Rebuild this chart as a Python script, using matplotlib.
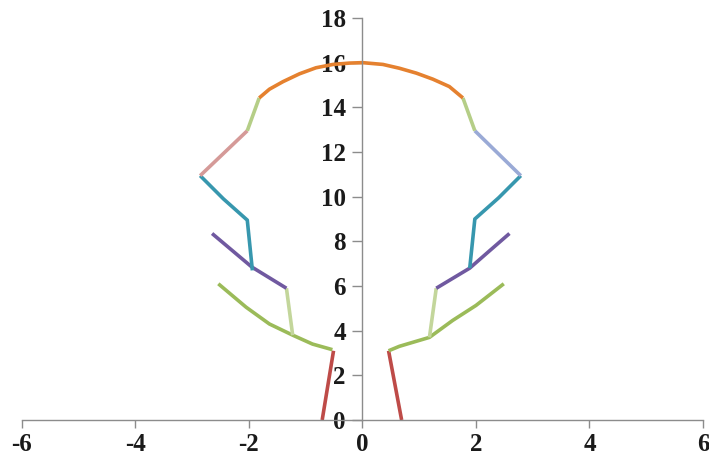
import matplotlib.pyplot as plt

# outline of the crown, drawn piece by piece
crown_x = [-1.82, -1.64, -1.40, -1.11, -0.82, -0.52, -0.23, 0.0,
           0.36, 0.65, 0.95, 1.24, 1.53, 1.77]
crown_y = [14.42, 14.81, 15.15, 15.50, 15.77, 15.92, 15.98, 16.0,
           15.92, 15.75, 15.53, 15.26, 14.93, 14.42]

upper_left_x = [-1.82, -2.03]
upper_left_y = [14.42, 12.95]
upper_right_x = [1.77, 1.98]
upper_right_y = [14.42, 12.95]

pink_x = [-2.03, -2.86]
pink_y = [12.95, 10.94]
lavender_x = [1.98, 2.79]
lavender_y = [12.95, 10.94]

teal_left_x = [-2.86, -2.45, -2.03, -1.94]
teal_left_y = [10.94, 9.9, 8.95, 6.7]
teal_right_x = [2.79, 2.4, 1.98, 1.89]
teal_right_y = [10.94, 9.95, 9.0, 6.8]

purple_left_x = [-2.65, -2.3, -1.95, -1.34]
purple_left_y = [8.35, 7.6, 6.85, 5.9]
purple_right_x = [2.59, 2.25, 1.89, 1.3]
purple_right_y = [8.35, 7.6, 6.8, 5.9]

pale_left_x = [-1.34, -1.23]
pale_left_y = [5.9, 3.8]
pale_right_x = [1.3, 1.18]
pale_right_y = [5.9, 3.7]

olive_left_x = [-2.54, -2.05, -1.64, -1.23, -0.88, -0.53]
olive_left_y = [6.1, 5.05, 4.3, 3.8, 3.4, 3.15]
olive_right_x = [2.49, 2.0, 1.59, 1.18, 0.65, 0.46]
olive_right_y = [6.1, 5.13, 4.46, 3.7, 3.3, 3.1]

trunk_left_x = [-0.51, -0.71]
trunk_left_y = [3.1, 0.0]
trunk_right_x = [0.46, 0.69]
trunk_right_y = [3.1, 0.0]

x_ticks = [-6, -4, -2, 0, 2, 4, 6]
y_ticks = [0, 2, 4, 6, 8, 10, 12, 14, 16, 18]

fig = plt.figure(figsize=(7.09, 4.73), dpi=100)
ax = fig.add_axes([0.031, 0.112, 0.9605, 0.85])

lw = 2.6
pieces = [
    (trunk_left_x, trunk_left_y, '#BE4B48'),
    (trunk_right_x, trunk_right_y, '#BE4B48'),
    (olive_left_x, olive_left_y, '#9BBB59'),
    (olive_right_x, olive_right_y, '#9BBB59'),
    (pale_left_x, pale_left_y, '#C3D69B'),
    (pale_right_x, pale_right_y, '#C3D69B'),
    (purple_left_x, purple_left_y, '#7059A0'),
    (purple_right_x, purple_right_y, '#7059A0'),
    (teal_left_x, teal_left_y, '#3797AE'),
    (teal_right_x, teal_right_y, '#3797AE'),
    (pink_x, pink_y, '#D59A98'),
    (lavender_x, lavender_y, '#9AAAD6'),
    (upper_left_x, upper_left_y, '#B5CE87'),
    (upper_right_x, upper_right_y, '#B5CE87'),
    (crown_x, crown_y, '#E5812F'),
]
for xs, ys, c in pieces:
    ax.plot(xs, ys, color=c, lw=lw, solid_capstyle='butt', solid_joinstyle='round')

ax.set_xlim(-6, 6)
ax.set_ylim(0, 18)
ax.spines['left'].set_position(('data', 0))
ax.spines['bottom'].set_position(('data', 0))
ax.spines['right'].set_visible(False)
ax.spines['top'].set_visible(False)
for s in ('left', 'bottom'):
    ax.spines[s].set_color('#8C8C8C')
    ax.spines[s].set_linewidth(1.0)

ax.set_xticks(x_ticks)
ax.set_yticks(y_ticks)
ax.set_xticklabels([str(t) for t in x_ticks], fontsize=18,
                   fontfamily='Liberation Serif', fontweight='bold')
ax.set_yticklabels([str(t) for t in y_ticks], fontsize=18,
                   fontfamily='Liberation Serif', fontweight='bold')
ax.tick_params(axis='both', direction='out', color='#8C8C8C', width=1.0,
               labelcolor='#1A1A1A')
ax.tick_params(axis='x', length=6, pad=3)
ax.tick_params(axis='y', length=7, pad=5)

fig.savefig('out.png', dpi=100)
